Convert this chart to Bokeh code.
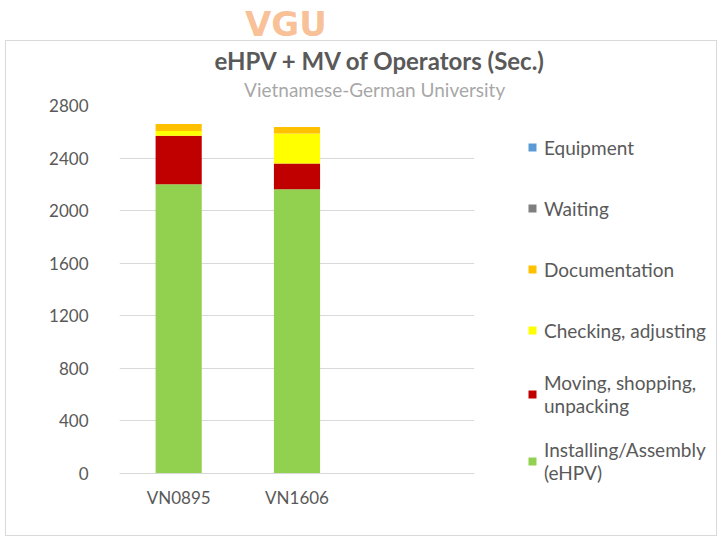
from bokeh.plotting import figure
from bokeh.models import (FactorRange, Range1d, Legend, LegendItem, Title,
                          ColumnDataSource, FixedTicker, CategoricalAxis)
from bokeh.embed import file_html
from bokeh.resources import INLINE

# ---- data ----
categories = ["VN0895", "VN1606"]
blank_category = [" "]
installing = [2200, 2162]
moving = [370, 196]
checking = [36, 229]
documentation = [54, 50]
waiting = [0, 0]
equipment = [0, 0]
series_keys = ["installing", "moving", "checking", "documentation", "waiting", "equipment"]
series_labels = ["Installing/Assembly\n(eHPV)", "Moving, shopping,\nunpacking",
                 "Checking, adjusting", "Documentation", "Waiting", "Equipment"]
series_colors = ["#92D050", "#C00000", "#FFFF00", "#FFC000", "#7F7F7F", "#5B9BD5"]
y_ticks = [0, 400, 800, 1200, 1600, 2000, 2400, 2800]
title_text = "eHPV + MV of Operators (Sec.)"
watermark_logo = "VGU"
watermark_text = "Vietnamese-German University"

FONT = "Lato"
TXT = "#595959"
GRID = "#D9D9D9"

source = ColumnDataSource(dict(
    cat=categories, installing=installing, moving=moving, checking=checking,
    documentation=documentation, waiting=waiting, equipment=equipment))

p = figure(x_range=FactorRange(factors=categories + blank_category),
           y_range=Range1d(0, 2800),
           frame_width=355, frame_height=368,
           min_border_left=119, min_border_right=246,
           min_border_top=105, min_border_bottom=65,
           output_backend="svg", toolbar_location=None)
p.outline_line_color = None
p.background_fill_color = "white"
p.border_fill_alpha = 0
# light grey chart-area border (Excel style) drawn as CSS background lines
line = f"linear-gradient({GRID},{GRID})"
p.styles = {"background": (
    f"{line} 5px 40px / 712px 1px no-repeat, "
    f"{line} 5px 535px / 712px 1px no-repeat, "
    f"{line} 5px 40px / 1px 496px no-repeat, "
    f"{line} 716px 40px / 1px 496px no-repeat, white")}

renderers = p.vbar_stack(series_keys, x="cat", width=0.39, color=series_colors,
                         source=source, line_color=None)

# axes
p.yaxis.ticker = FixedTicker(ticks=y_ticks)
p.yaxis.axis_line_color = None
p.yaxis.major_tick_line_color = None
p.yaxis.major_tick_out = 0
p.yaxis.major_tick_in = 0
p.yaxis.minor_tick_line_color = None
p.yaxis.major_label_standoff = 31
p.yaxis.major_label_text_font = FONT
p.yaxis.major_label_text_font_size = "17px"
p.yaxis.major_label_text_color = TXT

p.xaxis.axis_line_color = GRID
p.xaxis.major_tick_line_color = None
p.xaxis.major_tick_out = 0
p.xaxis.major_tick_in = 0
p.xaxis.minor_tick_line_color = None
p.xaxis.major_label_standoff = 13
p.xaxis.major_label_text_font = FONT
p.xaxis.major_label_text_font_size = "17px"
p.xaxis.major_label_text_color = TXT

p.xgrid.grid_line_color = None
p.ygrid.grid_line_color = GRID
p.ygrid.grid_line_width = 1


# watermark texts placed in the above panel through helper slot ranges
def slot_factors(slot, text, n=16):
    f = [" " * (i + 1) for i in range(n)]
    f[slot] = text
    return f


p.extra_x_ranges = {"wm_text": FactorRange(factors=slot_factors(11, watermark_text)),
                    "wm_logo": FactorRange(factors=slot_factors(7, watermark_logo))}


def slot_axis(name, **kw):
    return CategoricalAxis(x_range_name=name,
                           axis_line_color=None, major_tick_line_color=None,
                           major_tick_in=0, major_tick_out=0,
                           minor_tick_line_color=None, **kw)


p.add_layout(slot_axis("wm_text", major_label_standoff=5,
                       major_label_text_font=FONT, major_label_text_font_size="19px",
                       major_label_text_color="#8F8F8F", major_label_text_alpha=0.8),
             "above")

p.add_layout(Title(text=title_text, align="left", offset=95, standoff=0,
                   text_font=FONT, text_font_style="bold", text_font_size="24px",
                   text_color=TXT), "above")

p.add_layout(slot_axis("wm_logo", major_label_standoff=0,
                       major_label_text_font="DejaVu Sans",
                       major_label_text_font_style="bold",
                       major_label_text_font_size="34px",
                       major_label_text_color="#F8B98A", major_label_text_alpha=0.9),
             "above")

# legend (reverse order, top item = top of stack)
items = [LegendItem(label=lab, renderers=[r])
         for lab, r in zip(series_labels[::-1], renderers[::-1])]
legend = Legend(items=items, location=(53, -11),
                glyph_width=10, glyph_height=10, label_standoff=7,
                label_height=40, spacing=21, padding=0, margin=0,
                border_line_color=None, background_fill_alpha=0,
                label_text_font=FONT, label_text_font_size="19px",
                label_text_color=TXT)
p.add_layout(legend, "right")

open("out.html", "w").write(file_html(p, INLINE))
